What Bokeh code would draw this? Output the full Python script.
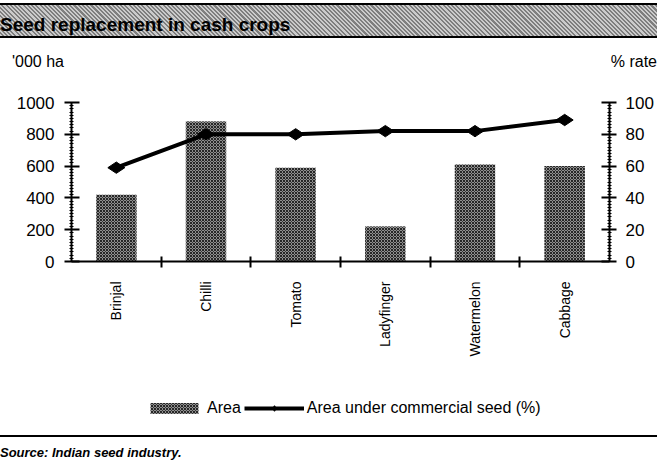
import math
from bokeh.plotting import figure
from bokeh.models import (Range1d, LinearAxis, FixedTicker, Legend, LegendItem,
                          ColumnDataSource, Div)
from bokeh.layouts import column
from bokeh.embed import file_html
from bokeh.resources import INLINE

# ---------------- data ----------------
categories = ["Brinjal", "Chilli", "Tomato", "Ladyfinger", "Watermelon", "Cabbage"]
area_000ha = [420, 880, 590, 220, 610, 600]
commercial_pct = [59, 80, 80, 82, 82, 89]
left_ticks = [0, 200, 400, 600, 800, 1000]
right_ticks = [0, 20, 40, 60, 80, 100]

title_text = "Seed replacement in cash crops"
left_unit = "'000 ha"
right_unit = "% rate"
source_text = "Source: Indian seed industry."
series_names = ["Area", "Area under commercial seed (%)"]

FONT = "Liberation Sans"
W = 657

BAR_STYLE = dict(fill_color="#8f8f8f", hatch_pattern="diagonal_cross", hatch_color="#262626",
                 hatch_scale=3, hatch_weight=1, line_color=None)
LINE_STYLE = dict(line_color="black", line_width=4)
MARK_STYLE = dict(marker="diamond", size=17, angle=math.pi / 2, fill_color="black",
                  line_color="black")

# ---------------- header (title band + units) ----------------
header_html = f"""<div style="position:relative;width:{W}px;height:80px;font-family:'Liberation Sans',Arial,sans-serif;color:#000;">
<div style="position:absolute;left:0;top:3px;width:{W}px;height:35px;border-top:2px solid #000;border-bottom:2px solid #000;background:repeating-linear-gradient(45deg,#cbcbcb 0px,#cbcbcb 1.5px,#7e7e7e 1.5px,#7e7e7e 3px);"></div>
<div style="position:absolute;left:0;top:12px;height:26px;line-height:26px;font-size:19px;font-weight:bold;white-space:nowrap;">{title_text}</div>
<div style="position:absolute;left:12px;top:52px;line-height:20px;font-size:16px;white-space:nowrap;">{left_unit}</div>
<div style="position:absolute;right:0;top:52px;line-height:20px;font-size:16px;white-space:nowrap;">{right_unit}</div>
</div>"""
hdr = Div(text=header_html, width=W, height=80, margin=(0, 0, 0, 0))

# ---------------- main chart ----------------
n = len(categories)
xpos = [i + 0.5 for i in range(n)]
src = ColumnDataSource(dict(x=xpos, area=area_000ha, pct=commercial_pct, cat=categories))

p = figure(width=W, height=307, x_range=Range1d(0, n), y_range=Range1d(0, 1000),
           toolbar_location=None, output_backend="svg",
           x_axis_location=None, y_axis_location=None,
           min_border_left=71, min_border_right=48, min_border_top=22, min_border_bottom=126,
           outline_line_color=None, margin=(0, 0, 0, 0))
p.grid.visible = False
p.extra_y_ranges = {"pct": Range1d(0, 100)}

bars = p.vbar(x="x", top="area", width=0.45, source=src, **BAR_STYLE)
line = p.line(x="x", y="pct", source=src, y_range_name="pct", **LINE_STYLE)
pts = p.scatter(x="x", y="pct", source=src, y_range_name="pct", **MARK_STYLE)


def style_y(ax):
    ax.axis_line_width = 2
    ax.axis_line_color = "black"
    ax.major_tick_in = 8
    ax.major_tick_out = 7
    ax.major_tick_line_width = 2
    ax.major_tick_line_color = "black"
    ax.minor_tick_in = 2
    ax.minor_tick_out = 2
    ax.minor_tick_line_width = 1
    ax.minor_tick_line_color = "black"
    ax.major_label_text_font = FONT
    ax.major_label_text_font_size = "17px"
    ax.major_label_text_color = "black"


yl = LinearAxis(ticker=FixedTicker(ticks=left_ticks, minor_ticks=list(range(0, 1001, 20))))
style_y(yl)
yl.major_label_standoff = 10
p.add_layout(yl, "left")

yr = LinearAxis(y_range_name="pct",
                ticker=FixedTicker(ticks=right_ticks, minor_ticks=list(range(0, 101, 2))))
style_y(yr)
yr.major_label_standoff = 9
p.add_layout(yr, "right")

xa = LinearAxis(ticker=FixedTicker(ticks=xpos, minor_ticks=list(range(1, n))))
xa.major_label_overrides = {x: c for x, c in zip(xpos, categories)}
xa.axis_line_width = 2
xa.axis_line_color = "black"
xa.major_tick_in = 0
xa.major_tick_out = 0
xa.minor_tick_in = 5
xa.minor_tick_out = 6
xa.minor_tick_line_width = 2
xa.minor_tick_line_color = "black"
xa.major_label_orientation = math.pi / 2
xa.major_label_standoff = 14
xa.major_label_text_font = FONT
xa.major_label_text_font_size = "14px"
xa.major_label_text_color = "black"
p.add_layout(xa, "below")

# ---------------- legend strip ----------------
lg = figure(width=W, height=35, x_range=Range1d(0, 1), y_range=Range1d(0, 1),
            toolbar_location=None, output_backend="svg",
            x_axis_location=None, y_axis_location=None,
            min_border_left=71, min_border_right=48, min_border_top=0, min_border_bottom=0,
            outline_line_color=None, margin=(0, 0, 0, 0))
lg.grid.visible = False
# swatch-only renderers: one point placed outside the visible range
key_src = ColumnDataSource(dict(x=[-10], top=[-10], y=[-10]))
lb = lg.vbar(x="x", top="top", width=0.1, source=key_src, **BAR_STYLE)
ll = lg.line(x="x", y="y", source=key_src, **LINE_STYLE)
lm = lg.scatter(x="x", y="y", source=key_src, **MARK_STYLE)
legend = Legend(items=[LegendItem(label=series_names[0], renderers=[lb]),
                       LegendItem(label=series_names[1], renderers=[ll, lm])],
                location=(73, 5), orientation="horizontal",
                glyph_width=60, glyph_height=14, label_standoff=3, spacing=3,
                padding=0, margin=0, border_line_color=None, background_fill_alpha=0,
                label_text_font=FONT, label_text_font_size="16px", label_text_color="black")
lg.add_layout(legend)

# ---------------- footer ----------------
footer_html = f"""<div style="position:relative;width:{W}px;height:37px;font-family:'Liberation Sans',Arial,sans-serif;color:#000;">
<div style="position:absolute;left:0;top:13px;width:{W}px;height:0;border-top:2px solid #000;"></div>
<div style="position:absolute;left:0;top:23px;line-height:16px;font-size:13px;font-weight:bold;font-style:italic;white-space:nowrap;">{source_text}</div>
</div>"""
ftr = Div(text=footer_html, width=W, height=37, margin=(0, 0, 0, 0))

layout = column(hdr, p, lg, ftr, spacing=0)
open("out.html", "w").write(file_html(layout, INLINE))
